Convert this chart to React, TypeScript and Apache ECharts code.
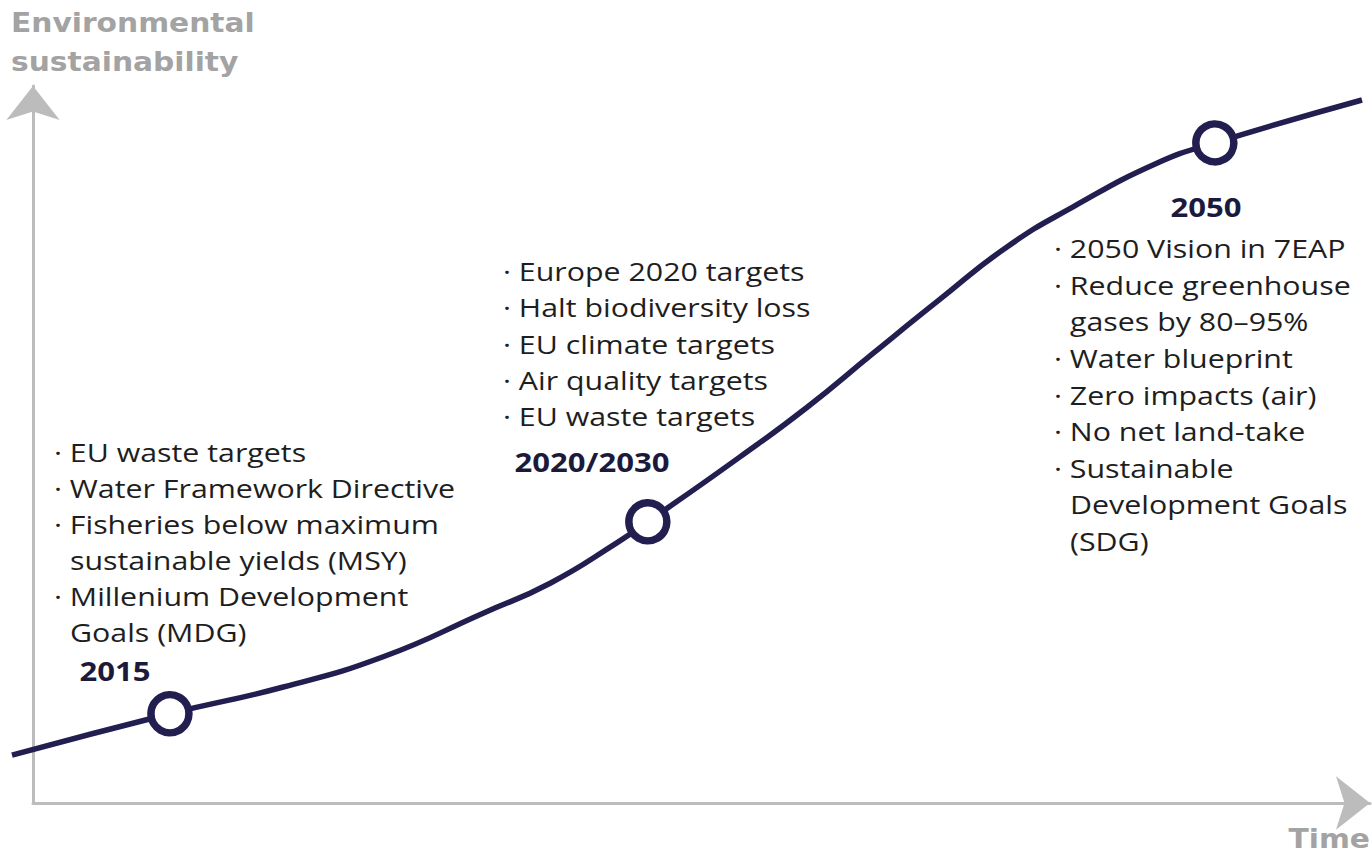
import React, { useEffect, useRef } from "react";
import * as echarts from "echarts";

// Curve of environmental sustainability over time (abstract units, 0-100)
const curveX = [0, 11.7, 20.1, 27.5, 34.9, 39.9, 44.8, 47.1, 53.9, 58.9, 63.8, 68.7, 73.7, 78.6, 84.8, 89.1, 100];
const curveY = [6.8, 12.7, 16.5, 20.8, 27.0, 31.3, 37.0, 40.0, 49.2, 56.3, 64.0, 71.6, 79.1, 84.8, 91.0, 93.9, 100];

const milestoneNames = ["2015", "2020/2030", "2050"];
const milestoneX = [11.7, 47.1, 89.1];
const milestoneY = [12.7, 40.0, 93.9];

const items2015 = ["EU waste targets", "Water Framework Directive", "Fisheries below maximum", "sustainable yields (MSY)", "Millenium Development", "Goals (MDG)"];
const bullets2015 = [true, true, true, false, true, false];
const items2020 = ["Europe 2020 targets", "Halt biodiversity loss", "EU climate targets", "Air quality targets", "EU waste targets"];
const bullets2020 = [true, true, true, true, true];
const items2050 = ["2050 Vision in 7EAP", "Reduce greenhouse", "gases by 80\u201395%", "Water blueprint", "Zero impacts (air)", "No net land-take", "Sustainable", "Development Goals", "(SDG)"];
const bullets2050 = [true, true, false, true, true, true, true, false, false];

const yAxisTitle = ["Environmental", "sustainability"];
const xAxisTitle = "Time";

const NAVY = "#221e50";
const YEAR = "#1c1a3c";
const TEXT = "#1e1e1e";
const GRAY = "#bcbcbc";
const TITLE = "#a3a3a3";
const FONT_ITEM = '26px "Open Sans"';
const FONT_YEAR = 'bold 27px "Open Sans"';
const FONT_AXIS = 'bold 27px "DejaVu Sans"';
const SX = 1.167; // the reference lettering is horizontally stretched

function block(textX: number, y0: number, lh: number, lines: string[], bullets: boolean[]) {
  return lines.map((t, i) => {
    const bulletW = 16;
    return {
      type: "text",
      x: bullets[i] ? textX - bulletW : textX,
      y: y0 + i * lh,
      scaleX: SX,
      style: {
        text: bullets[i] ? "\u00b7 " + t : t,
        font: FONT_ITEM,
        fill: TEXT,
        align: "left",
        verticalAlign: "middle",
      },
    };
  });
}

function label(x: number, y: number, text: string, font: string, fill: string, align: string, sx: number) {
  return { type: "text", x, y, scaleX: sx, style: { text, font, fill, align, verticalAlign: "middle" } };
}

export default function App() {
  const ref = useRef<HTMLDivElement>(null);
  useEffect(() => {
    if (!ref.current) return;
    const chart = echarts.init(ref.current, null, { renderer: "svg" });
    const hidden = { type: "value" as const, min: 0, max: 100, show: false };
    const visible = {
      type: "value" as const,
      min: 0,
      max: 100,
      splitLine: { show: false },
      axisTick: { show: false },
      axisLabel: { show: false },
      axisLine: { show: true, symbol: ["none", "arrow"], symbolSize: [40, 34], lineStyle: { color: GRAY, width: 3 } },
    };
    const graphic: any[] = [
      ...block(70, 452, 36, items2015, bullets2015),
      ...block(519, 271, 36.3, items2020, bullets2020),
      ...block(1070, 248, 36.6, items2050, bullets2050),
      label(115, 671, milestoneNames[0], FONT_YEAR, YEAR, "center", 1.15),
      label(592, 462, milestoneNames[1], FONT_YEAR, YEAR, "center", 1.15),
      label(1206, 207, milestoneNames[2], FONT_YEAR, YEAR, "center", 1.15),
      label(11, 23, yAxisTitle[0], FONT_AXIS, TITLE, "left", 1.1),
      label(11, 62, yAxisTitle[1], FONT_AXIS, TITLE, "left", 1.1),
      label(1370, 839, xAxisTitle, FONT_AXIS, TITLE, "right", 1.1),
    ];
    chart.setOption({
      animation: false,
      backgroundColor: "#ffffff",
      grid: [
        { left: 33, right: 2, top: 86, bottom: 54 },
        { left: 12, right: 10, top: 100, bottom: 54 },
      ],
      xAxis: [
        { ...visible, gridIndex: 0 },
        { ...hidden, gridIndex: 1 },
      ],
      yAxis: [
        { ...visible, gridIndex: 0 },
        { ...hidden, gridIndex: 1 },
      ],
      graphic,
      series: [
        {
          type: "line",
          xAxisIndex: 1,
          yAxisIndex: 1,
          data: curveX.map((x, i) => [x, curveY[i]]),
          smooth: 0.5,
          showSymbol: false,
          clip: false,
          lineStyle: { color: NAVY, width: 5.5 },
          z: 2,
        },
        {
          type: "scatter",
          xAxisIndex: 1,
          yAxisIndex: 1,
          data: milestoneX.map((x, i) => [x, milestoneY[i]]),
          symbol: "circle",
          symbolSize: 38,
          clip: false,
          itemStyle: { color: "#ffffff", borderColor: NAVY, borderWidth: 7.5, opacity: 1 },
          z: 3,
        },
      ],
    });
    return () => chart.dispose();
  }, []);
  return <div ref={ref} style={{ position: "absolute", left: 0, top: 0, width: 1372, height: 857 }} />;
}
